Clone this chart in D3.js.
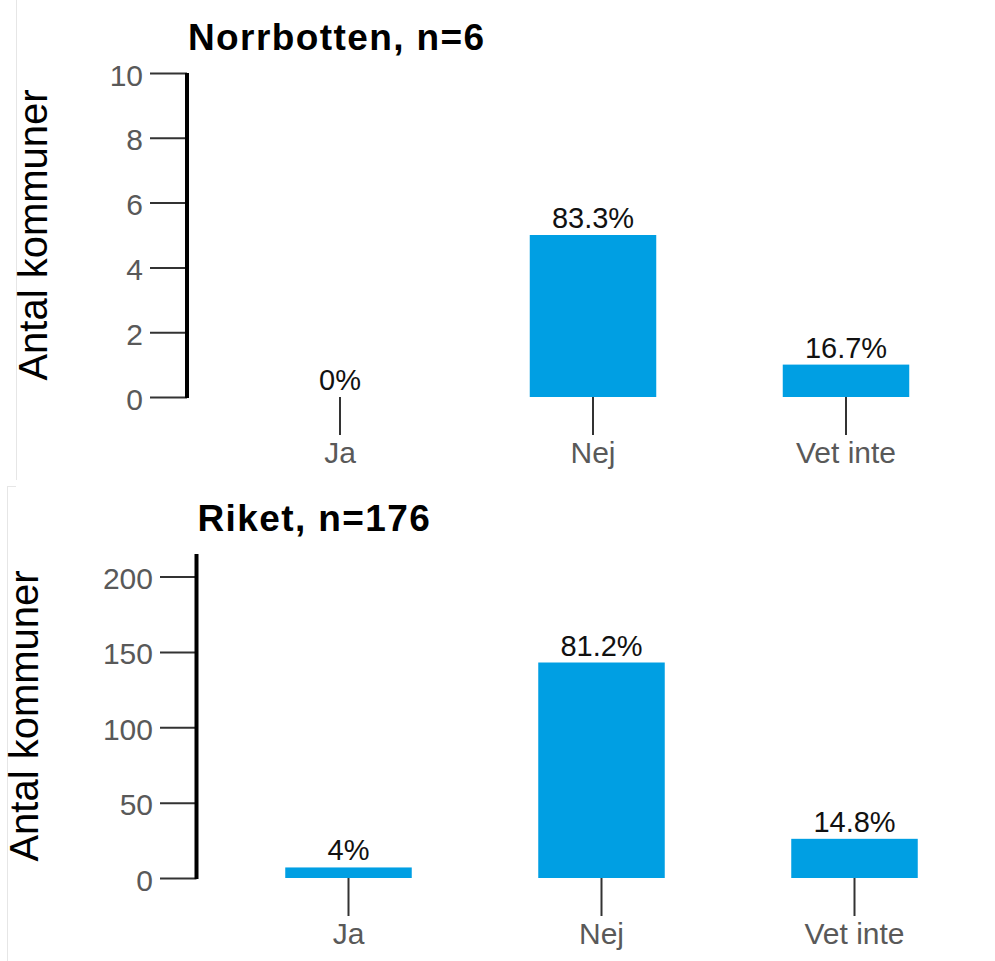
<!DOCTYPE html>
<html>
<head>
<meta charset="utf-8">
<script src="https://cdn.jsdelivr.net/npm/d3@7"></script>
<style>
  html, body { margin: 0; padding: 0; background: #fff; }
  svg { display: block; font-family: "Liberation Sans", Arial, sans-serif; }
</style>
</head>
<body>
<svg id="chart" width="995" height="961"></svg>
<script>
// ---- data ----
const categories = ["Ja", "Nej", "Vet inte"];

const norrbottenTitle = "Norrbotten, n=6";
const norrbottenCounts = [0, 5, 1];
const norrbottenLabels = ["0%", "83.3%", "16.7%"];
const norrbottenTicks = [0, 2, 4, 6, 8, 10];
const norrbottenMax = 10;

const riketTitle = "Riket, n=176";
const riketCounts = [7, 143, 26];
const riketLabels = ["4%", "81.2%", "14.8%"];
const riketTicks = [0, 50, 100, 150, 200];
const riketMax = 215;

const yAxisTitle = "Antal kommuner";

// ---- drawing ----
const svg = d3.select("#chart");
const BAR = "#009fe3";

// faint screenshot seams
svg.append("line").attr("x1", 16.5).attr("x2", 16.5).attr("y1", 0).attr("y2", 480)
  .attr("stroke", "#e6e6e6").attr("stroke-width", 1);
svg.append("line").attr("x1", 7.5).attr("x2", 7.5).attr("y1", 486).attr("y2", 961)
  .attr("stroke", "#e6e6e6").attr("stroke-width", 1);
svg.append("line").attr("x1", 7).attr("x2", 16).attr("y1", 486.5).attr("y2", 486.5)
  .attr("stroke", "#e6e6e6").attr("stroke-width", 1);

function drawPanel(cfg) {
  const g = svg.append("g");
  const y = d3.scaleLinear().domain([0, cfg.max]).range([cfg.y0, cfg.y0 - 324]);
  const step = 253;
  const x = d3.scaleBand().domain(categories)
    .range([cfg.firstCenter - 0.75 * step, cfg.firstCenter - 0.75 * step + 3.5 * step])
    .paddingInner(0.5).paddingOuter(0.5);

  // title
  g.append("text")
    .attr("x", cfg.axisX + 1).attr("y", cfg.titleY)
    .attr("font-size", 37).attr("font-weight", "bold").attr("letter-spacing", 1.4)
    .attr("fill", "#000").text(cfg.title);

  // y axis title
  g.append("text")
    .attr("transform", `translate(${cfg.yTitleX},${(y.range()[0] + cfg.axisTop) / 2}) rotate(-90)`)
    .attr("text-anchor", "middle").attr("font-size", 40).attr("fill", "#000")
    .text(yAxisTitle);

  // y axis ticks
  const yAxis = d3.axisLeft(y).tickValues(cfg.ticks).tickSize(cfg.tickLen)
    .tickSizeOuter(0).tickPadding(7);
  const ya = g.append("g").attr("transform", `translate(${cfg.axisX},0)`).call(yAxis);
  ya.select(".domain").remove();
  ya.selectAll(".tick line").attr("stroke", "#333").attr("stroke-width", 2);
  ya.selectAll(".tick text").attr("font-size", 30).attr("fill", "#595959")
    .attr("font-family", "Liberation Sans, Arial, sans-serif").attr("dy", "0.4em");

  // thick axis line
  g.append("line").attr("x1", cfg.axisX).attr("x2", cfg.axisX)
    .attr("y1", cfg.axisTop).attr("y2", y(0) + 1)
    .attr("stroke", "#000").attr("stroke-width", 4);

  // x axis ticks + labels
  const xAxis = d3.axisBottom(x).tickSize(38).tickSizeOuter(0);
  const xa = g.append("g").attr("transform", `translate(0,${y(0)})`).call(xAxis);
  xa.select(".domain").remove();
  xa.selectAll(".tick line").attr("stroke", "#333").attr("stroke-width", 2);
  xa.selectAll(".tick text").attr("font-size", 30).attr("fill", "#595959")
    .attr("font-family", "Liberation Sans, Arial, sans-serif")
    .attr("y", 66).attr("dy", 0);

  // bars
  g.selectAll("rect.bar").data(cfg.counts).enter().append("rect")
    .attr("class", "bar")
    .attr("x", (d, i) => x(categories[i]))
    .attr("width", x.bandwidth())
    .attr("y", d => y(d))
    .attr("height", d => y(0) - y(d))
    .attr("fill", BAR);

  // value labels
  g.selectAll("text.val").data(cfg.counts).enter().append("text")
    .attr("class", "val")
    .attr("x", (d, i) => x(categories[i]) + x.bandwidth() / 2)
    .attr("y", d => y(d) - 7)
    .attr("text-anchor", "middle").attr("font-size", 29).attr("fill", "#111")
    .text((d, i) => cfg.labels[i]);
}

drawPanel({
  title: norrbottenTitle, counts: norrbottenCounts, labels: norrbottenLabels,
  ticks: norrbottenTicks, max: norrbottenMax,
  y0: 397, axisX: 187, axisTop: 73, tickLen: 37, firstCenter: 340,
  titleY: 50, yTitleX: 47
});

drawPanel({
  title: riketTitle, counts: riketCounts, labels: riketLabels,
  ticks: riketTicks, max: riketMax,
  y0: 878, axisX: 196.5, axisTop: 554, tickLen: 36.5, firstCenter: 348.5,
  titleY: 531, yTitleX: 38
});
</script>
</body>
</html>
